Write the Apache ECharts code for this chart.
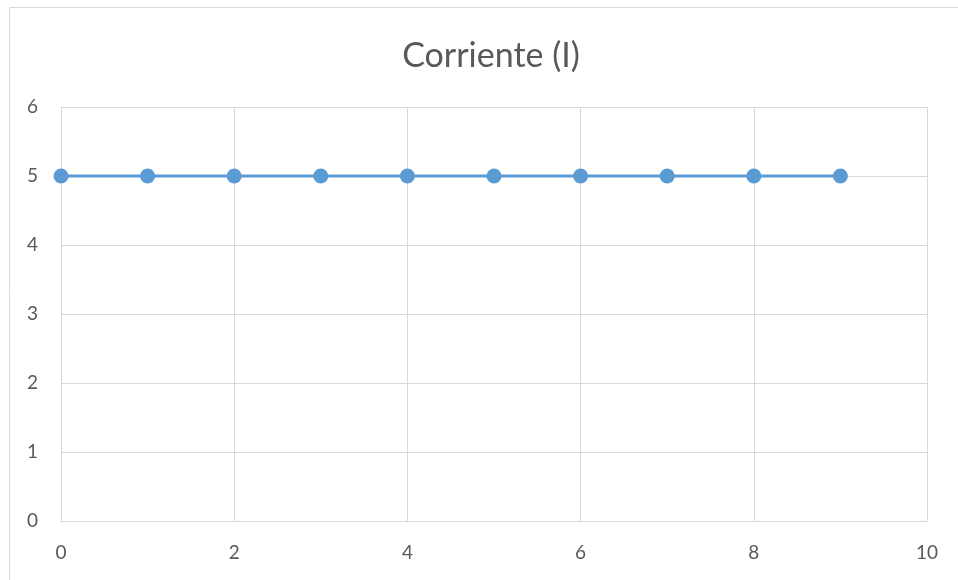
<!DOCTYPE html>
<html>
<head>
<meta charset="utf-8">
<script src="https://cdn.jsdelivr.net/npm/echarts@6/dist/echarts.min.js"></script>
<style>
  html, body { margin: 0; padding: 0; background: #fff; }
  #chart { width: 958px; height: 580px; }
</style>
</head>
<body>
<div id="chart"></div>
<script>
const xValues = [0, 1, 2, 3, 4, 5, 6, 7, 8, 9]
const current = [5, 5, 5, 5, 5, 5, 5, 5, 5, 5]

let chart = echarts.init(document.getElementById('chart'))

let points = []
for (let i = 0; i < xValues.length; i++) {
  points.push([xValues[i], current[i]])
}

chart.setOption({
  animation: false,
  textStyle: { fontFamily: 'Lato' },
  graphic: [
    {
      type: 'rect',
      shape: { x: 9.5, y: 7.5, width: 960, height: 600 },
      style: { fill: 'none', stroke: '#D9D9D9', lineWidth: 1 },
      silent: true
    }
  ],
  title: {
    text: 'Corriente (I)',
    left: 486,
    textAlign: 'center',
    top: 34,
    textStyle: { color: '#595959', fontSize: 34, fontWeight: 'normal' }
  },
  grid: { left: 61, right: 31, top: 107, bottom: 59 },
  xAxis: {
    type: 'value',
    min: 0,
    max: 10,
    interval: 2,
    axisLine: { lineStyle: { color: '#D9D9D9' } },
    axisTick: { show: false },
    axisLabel: { color: '#595959', fontSize: 19, margin: 22 },
    splitLine: { lineStyle: { color: '#D9D9D9' } }
  },
  yAxis: {
    type: 'value',
    min: 0,
    max: 6,
    interval: 1,
    axisLine: { show: true, lineStyle: { color: '#D9D9D9' } },
    axisTick: { show: false },
    axisLabel: { color: '#595959', fontSize: 19, margin: 23 },
    splitLine: { lineStyle: { color: '#D9D9D9' } }
  },
  series: [
    {
      name: 'Corriente (I)',
      type: 'line',
      data: points,
      symbol: 'circle',
      symbolSize: 15,
      lineStyle: { color: '#5B9BD5', width: 3 },
      itemStyle: { color: '#5B9BD5' }
    }
  ]
})
</script>
</body>
</html>
